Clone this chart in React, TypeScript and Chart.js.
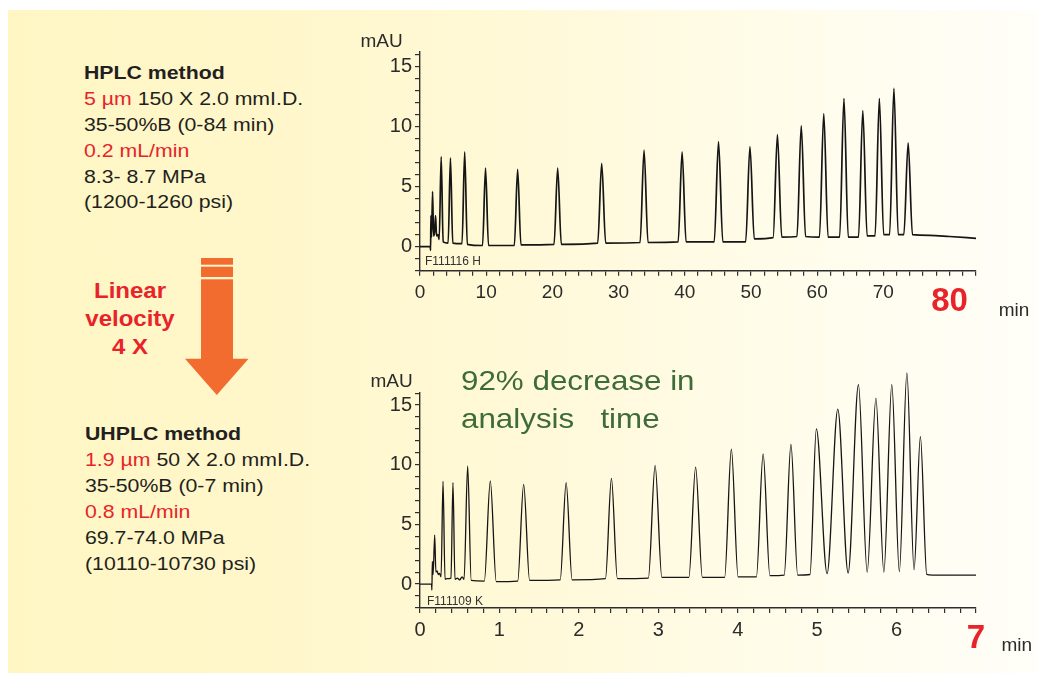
import React, { useEffect, useRef } from "react";
import { Chart, registerables } from "chart.js";
Chart.register(...registerables);

// ---------- DATA ----------
// HPLC run (0-84 min): trace points (retention time, mAU)
const hplcTime = [0, 1.55, 1.6, 1.65, 1.75, 1.9, 2.05, 2.2, 2.35, 2.5, 2.7, 2.9, 3.2, 3.5, 4.25, 4.6, 4.95, 6.35, 6.75, 7.15, 9.45, 9.9, 10.35, 14.25, 14.75, 15.25, 20.25, 20.8, 21.35, 26.85, 27.45, 28.05, 33.25, 33.85, 34.45, 39.0, 39.6, 40.2, 44.45, 45.1, 45.75, 49.2, 49.85, 50.5, 53.35, 54.0, 54.65, 56.95, 57.6, 58.25, 60.35, 61.0, 61.65, 63.4, 64.05, 64.7, 66.25, 66.9, 67.55, 68.75, 69.4, 70.05, 70.95, 71.6, 72.25, 73.1, 73.75, 74.4, 77, 80, 84];
const hplcSignal = [0, 0, -0.3, 2.6, 0.8, 4.6, 0.9, 1.2, 2.6, 0.9, 1.0, 0.6, 7.5, 0.4, 0.3, 7.4, 0.3, 0.25, 7.9, 0.2, 0.1, 6.55, 0.1, 0.1, 6.45, 0.15, 0.2, 6.55, 0.2, 0.3, 6.95, 0.3, 0.35, 8.05, 0.35, 0.4, 7.9, 0.4, 0.4, 8.75, 0.4, 0.4, 8.35, 0.65, 0.75, 9.35, 0.8, 0.85, 10.1, 0.85, 0.8, 11.1, 0.8, 0.8, 12.35, 0.8, 0.8, 11.35, 0.9, 0.9, 12.35, 1.0, 1.0, 13.2, 1.0, 1.0, 8.65, 1.0, 0.95, 0.85, 0.7];

// UHPLC run (0-7 min): trace points (retention time, mAU)
const uhplcTime = [0, 0.145, 0.15, 0.155, 0.165, 0.185, 0.2, 0.215, 0.23, 0.245, 0.265, 0.29, 0.315, 0.34, 0.39, 0.415, 0.44, 0.47, 0.5, 0.53, 0.555, 0.6, 0.645, 0.81, 0.885, 0.96, 1.23, 1.305, 1.38, 1.765, 1.84, 1.915, 2.335, 2.41, 2.485, 2.875, 2.96, 3.045, 3.385, 3.47, 3.555, 3.835, 3.92, 4.005, 4.235, 4.32, 4.405, 4.585, 4.67, 4.755, 4.91, 4.99, 5.125, 5.26, 5.39, 5.52, 5.63, 5.74, 5.84, 5.94, 6.035, 6.13, 6.22, 6.3, 6.38, 6.45, 7.0];
const uhplcSignal = [0, 0, -0.5, 1.9, 0.8, 4.1, 1.0, 1.1, 0.8, 0.9, 0.6, 8.6, 0.4, 0.45, 0.5, 8.5, 0.4, 0.5, 0.35, 0.6, 0.4, 9.9, 0.3, 0.25, 8.65, 0.2, 0.25, 8.35, 0.3, 0.35, 8.5, 0.35, 0.45, 8.85, 0.45, 0.5, 9.95, 0.55, 0.55, 9.8, 0.55, 0.55, 11.3, 0.6, 0.6, 10.9, 0.7, 0.75, 11.7, 0.75, 0.8, 13.0, 0.87, 14.65, 0.92, 16.7, 1.0, 15.55, 1.0, 16.7, 1.05, 17.7, 1.2, 12.35, 0.8, 0.75, 0.75];

// Tick labels
const yTickLabels = [0, 5, 10, 15];
const hplcXLabels = [0, 10, 20, 30, 40, 50, 60, 70, 80];
const uhplcXLabels = [0, 1, 2, 3, 4, 5, 6, 7];
const hplcRedLabel = 80;
const uhplcRedLabel = 7;

// Text
const hplcLines = ["35-50%B (0-84 min)"];
const uhplcLines = ["35-50%B (0-7 min)"];

const FONT = "'Liberation Sans', Arial, Helvetica, sans-serif";
const RED = "#E8232A";
const AXIS = "#2e2e2e";

Chart.defaults.font.family = FONT;

type ChromProps = {
  times: number[];
  signal: number[];
  xMax: number;
  xStep: number;
  xLabels: number[];
  redLabel: number;
  yMax: number;
  top: number;
  height: number;
  padTop: number;
  padBottom: number;
  lineWidth: number;
  xFont: number;
};

function ChromChart(p: ChromProps) {
  const ref = useRef<HTMLCanvasElement>(null);
  useEffect(() => {
    const isLabel = (v: number, list: number[]) => {
      const r = Math.round(v);
      return Math.abs(v - r) < 1e-6 && list.includes(r);
    };
    const isRed = (v: number) => Math.abs(v - p.redLabel) < 1e-6;
    const chart = new Chart(ref.current as HTMLCanvasElement, {
      type: "line",
      data: {
        datasets: [
          {
            data: p.times.map((t, i) => ({ x: t, y: p.signal[i] })),
            borderColor: "#151515",
            borderWidth: p.lineWidth,
            pointRadius: 0,
            cubicInterpolationMode: "monotone",
            fill: false,
            clip: false as any,
          },
        ],
      },
      options: {
        responsive: false,
        animation: false,
        events: [],
        layout: { padding: { left: 0, right: 62, top: p.padTop, bottom: p.padBottom } },
        plugins: { legend: { display: false }, tooltip: { enabled: false } },
        scales: {
          x: {
            type: "linear",
            min: 0,
            max: p.xMax,
            afterFit: (s: any) => {
              s.height = 50;
            },
            border: { display: true, color: AXIS, width: 1.4 },
            grid: { drawOnChartArea: false, drawTicks: true, tickLength: 5, color: AXIS, lineWidth: 1.2 },
            ticks: {
              stepSize: p.xStep,
              autoSkip: false,
              maxRotation: 0,
              minRotation: 0,
              includeBounds: false,
              padding: 6,
              callback: (v: any) => (isLabel(Number(v), p.xLabels) ? String(Math.round(Number(v))) : ""),
              font: (ctx: any) =>
                isRed(ctx.tick ? ctx.tick.value : -1)
                  ? { size: 33, weight: "bold", family: FONT }
                  : { size: p.xFont, family: FONT },
              color: (ctx: any) => (isRed(ctx.tick ? ctx.tick.value : -1) ? RED : "#2b2b2b"),
            },
          },
          y: {
            type: "linear",
            min: -2,
            max: p.yMax,
            afterFit: (s: any) => {
              s.width = 80;
            },
            border: { display: true, color: AXIS, width: 1.4 },
            grid: { drawOnChartArea: false, drawTicks: true, tickLength: 5, color: AXIS, lineWidth: 1.2 },
            ticks: {
              stepSize: 1,
              autoSkip: false,
              includeBounds: false,
              padding: 3,
              callback: (v: any) => (isLabel(Number(v), yTickLabels) ? String(Math.round(Number(v))) : ""),
              font: { size: 20, family: FONT },
              color: "#2b2b2b",
            },
          },
        },
      },
    });
    return () => chart.destroy();
  }, []);
  return (
    <canvas
      ref={ref}
      width={698}
      height={p.height}
      style={{ position: "absolute", left: 340, top: p.top, width: 698, height: p.height, display: "block" }}
    />
  );
}

const abs = (left: number, top: number, extra: React.CSSProperties = {}): React.CSSProperties => ({
  position: "absolute",
  left,
  top,
  whiteSpace: "pre",
  fontFamily: FONT,
  ...extra,
});

export default function App() {
  const methodStyle: React.CSSProperties = {
    fontSize: 18.5,
    lineHeight: "25.9px",
    color: "#231f20",
    transform: "scaleX(1.15)",
    transformOrigin: "left top",
  };
  const red: React.CSSProperties = { color: RED };
  return (
    <div
      style={{
        position: "absolute",
        left: 0,
        top: 0,
        width: 1038,
        height: 673,
        overflow: "hidden",
        background: "#ffffff",
        fontFamily: FONT,
      }}
    >
      <div
        style={{
          position: "absolute",
          left: 8,
          top: 10,
          width: 1030,
          height: 663,
          background:
            "linear-gradient(90deg, #FFF6C4 0%, #FFF7CA 25%, #FFF9D8 50%, #FFFCEA 75%, #FFFEF8 100%)",
        }}
      />

      {/* HPLC method block */}
      <div style={abs(84, 59.9, methodStyle)}>
        <div style={{ fontWeight: "bold" }}>HPLC method</div>
        <div>
          <span style={red}>5 µm</span> 150 X 2.0 mmI.D.
        </div>
        <div>{hplcLines[0]}</div>
        <div style={red}>0.2 mL/min</div>
        <div>8.3- 8.7 MPa</div>
        <div>(1200-1260 psi)</div>
      </div>

      {/* UHPLC method block */}
      <div style={abs(84.5, 421.3, methodStyle)}>
        <div style={{ fontWeight: "bold" }}>UHPLC method</div>
        <div>
          <span style={red}>1.9 µm</span> 50 X 2.0 mmI.D.
        </div>
        <div>{uhplcLines[0]}</div>
        <div style={red}>0.8 mL/min</div>
        <div>69.7-74.0 MPa</div>
        <div>(10110-10730 psi)</div>
      </div>

      {/* Arrow */}
      <svg width={1038} height={673} style={{ position: "absolute", left: 0, top: 0 }}>
        <rect x={201} y={258} width={32} height={6.7} fill="#F26B2F" />
        <rect x={201} y={266.7} width={32} height={10.3} fill="#F26B2F" />
        <rect x={201} y={279.3} width={32} height={80} fill="#F26B2F" />
        <polygon points="185,358.8 248.5,358.8 216.8,395" fill="#F26B2F" />
      </svg>

      <div
        style={abs(80, 276.5, {
          width: 100,
          textAlign: "center",
          fontSize: 22,
          fontWeight: "bold",
          lineHeight: "28.4px",
          color: RED,
          transform: "scaleX(1.09)",
          transformOrigin: "center top",
        })}
      >
        <div>Linear</div>
        <div>velocity</div>
        <div>4 X</div>
      </div>

      <ChromChart
        times={hplcTime}
        signal={hplcSignal}
        xMax={84}
        xStep={2}
        xLabels={hplcXLabels}
        redLabel={hplcRedLabel}
        yMax={16.25}
        top={20}
        height={310}
        padTop={31.7}
        padBottom={9.3}
        lineWidth={1.7}
        xFont={19}
      />
      <ChromChart
        times={uhplcTime}
        signal={uhplcSignal}
        xMax={7}
        xStep={0.2}
        xLabels={uhplcXLabels}
        redLabel={uhplcRedLabel}
        yMax={16}
        top={340}
        height={333}
        padTop={53.1}
        padBottom={15.1}
        lineWidth={1.3}
        xFont={20}
      />

      {/* axis titles and run ids */}
      <div style={abs(360.5, 30.6, { fontSize: 19, lineHeight: "19px", color: "#2b2b2b" })}>mAU</div>
      <div style={abs(370.5, 370.6, { fontSize: 19, lineHeight: "19px", color: "#2b2b2b" })}>mAU</div>
      <div style={abs(998.7, 300.4, { fontSize: 19, lineHeight: "19px", color: "#2b2b2b" })}>min</div>
      <div style={abs(1001.5, 634.9, { fontSize: 19, lineHeight: "19px", color: "#2b2b2b" })}>min</div>
      <div style={abs(425, 254.8, { fontSize: 12, lineHeight: "12px", color: "#333" })}>F111116 H</div>
      <div style={abs(427, 594.8, { fontSize: 12, lineHeight: "12px", color: "#333" })}>F111109 K</div>

      {/* annotation */}
      <div
        style={abs(460.5, 361, {
          fontSize: 28.5,
          lineHeight: "38.3px",
          color: "#3E6B3A",
          transform: "scaleX(1.1)",
          transformOrigin: "left top",
        })}
      >
        <div>92% decrease in</div>
        <div>analysis   time</div>
      </div>
    </div>
  );
}
